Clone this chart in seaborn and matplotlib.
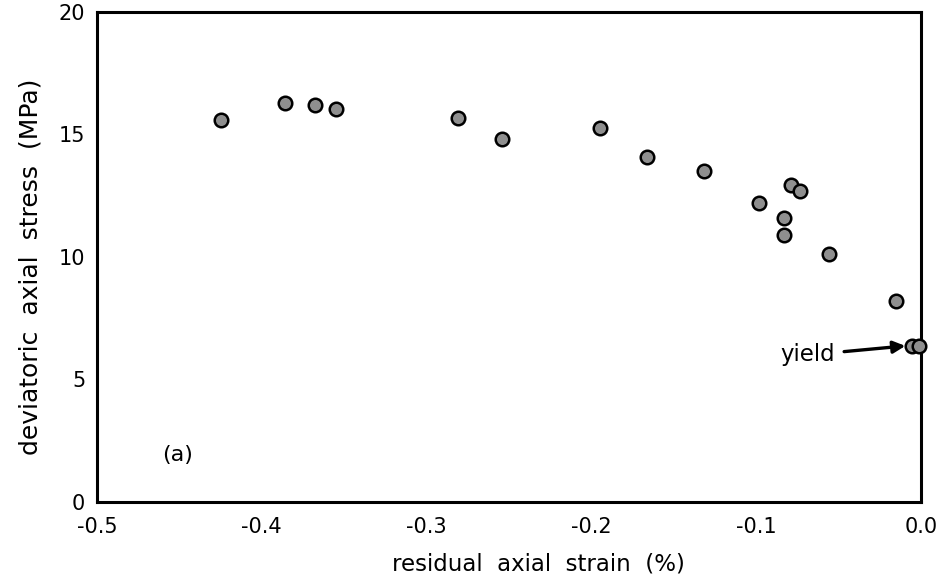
import matplotlib
matplotlib.use("Agg")
import matplotlib.pyplot as plt
import seaborn as sns
import pandas as pd
from matplotlib.ticker import MultipleLocator

strain = [-0.425, -0.386, -0.368, -0.355, -0.281, -0.254, -0.195, -0.166,
          -0.1315, -0.0985, -0.079, -0.0736, -0.083, -0.083, -0.056, -0.015,
          -0.0055, -0.0015]
stress = [15.6, 16.3, 16.2, 16.03, 15.66, 14.8, 15.25, 14.1,
          13.52, 12.22, 12.94, 12.68, 11.6, 10.9, 10.11, 8.22,
          6.35, 6.35]

x_ticks = [-0.5, -0.4, -0.3, -0.2, -0.1, 0.0]
x_tick_labels = ["-0.5", "-0.4", "-0.3", "-0.2", "-0.1", "0.0"]
y_ticks = [0, 5, 10, 15, 20]

sns.set_style("white")
plt.rcParams['font.family'] = ['DejaVu Sans']
plt.rcParams['text.color'] = 'black'
plt.rcParams['axes.labelcolor'] = 'black'
plt.rcParams['xtick.color'] = 'black'
plt.rcParams['ytick.color'] = 'black'

df = pd.DataFrame({"strain": strain, "stress": stress})

fig = plt.figure(figsize=(9.46, 5.88), dpi=100)
ax = fig.add_axes([0.1025, 0.1463, 0.8711, 0.8333])

sns.scatterplot(data=df, x="strain", y="stress", ax=ax, s=95,
                color="#8f8f8f", edgecolor="black", linewidth=1.8,
                zorder=3, clip_on=False)

ax.set_xlim(-0.5, 0.0)
ax.set_ylim(0, 20)
ax.set_xticks(x_ticks)
ax.set_xticklabels(x_tick_labels)
ax.set_yticks(y_ticks)
ax.xaxis.set_minor_locator(MultipleLocator(0.02))
ax.yaxis.set_minor_locator(MultipleLocator(1))

ax.tick_params(axis="both", which="major", direction="in", length=7, width=1.8,
               labelsize=15, top=False, right=False, colors="black")
ax.tick_params(axis="both", which="minor", direction="in", length=4, width=1.4,
               top=False, right=False, colors="black")
ax.tick_params(axis="x", which="major", pad=11)
ax.tick_params(axis="y", which="major", pad=8.5)

for sp in ax.spines.values():
    sp.set_visible(True)
    sp.set_linewidth(2.2)
    sp.set_color("black")

ax.set_xlabel("residual  axial  strain  (%)", fontsize=16.5, color="black")
ax.set_ylabel("deviatoric  axial  stress  (MPa)", fontsize=18, color="black")
ax.xaxis.set_label_coords(0.536, -0.104)
ax.yaxis.set_label_coords(-0.066, 0.48)

ax.text(-0.451, 1.9, "(a)", fontsize=16, ha="center", va="center", color="black")
ax.annotate("yield", xy=(-0.0095, 6.37), xytext=(-0.052, 6.0),
            fontsize=16.5, ha="right", va="center", color="black",
            arrowprops=dict(arrowstyle="-|>", color="black", lw=2.4,
                            mutation_scale=18, shrinkA=4, shrinkB=0))

fig.savefig("out.png", dpi=100)
